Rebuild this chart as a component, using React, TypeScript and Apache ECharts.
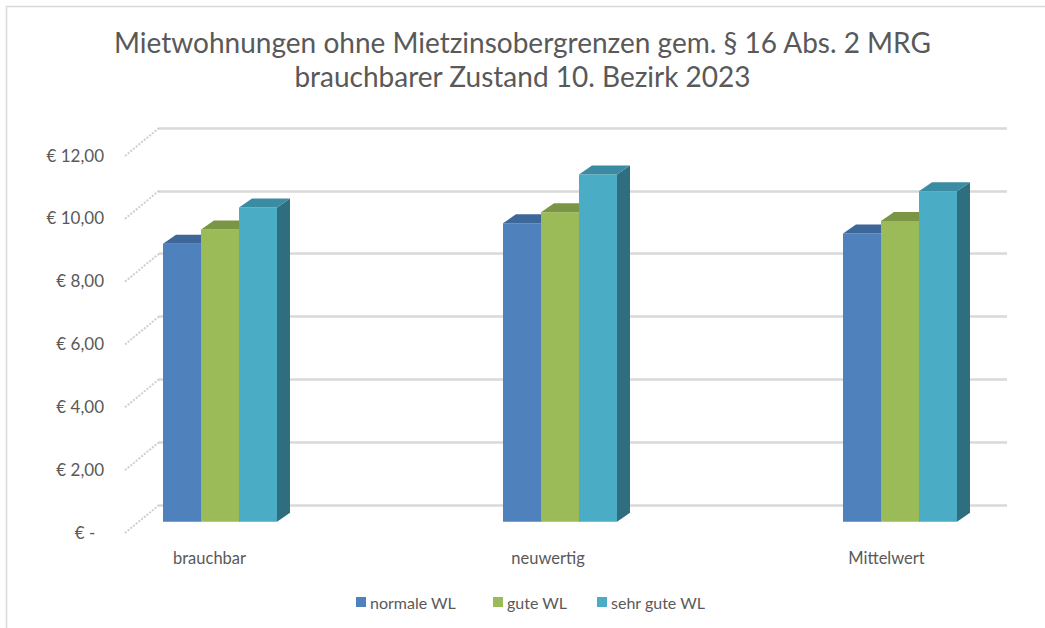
import React, { useEffect, useRef } from "react";
import * as echarts from "echarts";

const categories = ["brauchbar", "neuwertig", "Mittelwert"];
const seriesNames = ["normale WL", "gute WL", "sehr gute WL"];
const normaleWL = [8.85, 9.5, 9.17];
const guteWL = [9.3, 9.85, 9.57];
const sehrGuteWL = [10.0, 11.05, 10.52];
const seriesValues = [normaleWL, guteWL, sehrGuteWL];
const yTicks = [0, 2, 4, 6, 8, 10, 12];
const titleLines = [
  "Mietwohnungen ohne Mietzinsobergrenzen gem. § 16 Abs. 2 MRG",
  "brauchbarer Zustand 10. Bezirk 2023",
];

const FONT = "Lato";
const TEXT = "#595959";
const FRONT = ["#4F81BD", "#9BBB59", "#4BACC6"];
const TOP = ["#3D6699", "#7A9645", "#3A8CA3"];
const SIDE = ["#335A88", "#6A843B", "#2E6E7F"];

function formatEuro(v: number) {
  if (v === 0) return "€ -\u00A0\u00A0";
  return "€ " + v.toFixed(2).replace(".", ",");
}

export default function App() {
  const ref = useRef<HTMLDivElement>(null);
  useEffect(() => {
    document.body.style.margin = "0";
    const chart = echarts.init(ref.current!, null, { renderer: "svg" });
    const DX = 13;
    const DY = 9;
    const barSeries = seriesValues.map((vals, s) => ({
      type: "custom",
      name: seriesNames[s],
      xAxisIndex: 2,
      yAxisIndex: 2,
      itemStyle: { color: FRONT[s] },
      z: 5 + s,
      clip: false,
      data: vals.map((v, i) => [i, v]),
      renderItem: (params: any, api: any) => {
        const cat = api.value(0);
        const v = api.value(1);
        const base = api.coord([cat, 0]);
        const top = api.coord([cat, v]);
        const bw = 38;
        const cx = base[0] + 10.5 + cat * 1.5;
        const x0 = cx - 1.5 * bw + s * bw;
        const x1 = x0 + bw;
        const yT = top[1];
        const yB = base[1];
        return {
          type: "group",
          children: [
            {
              type: "polygon",
              shape: { points: [[x1, yT], [x1 + DX, yT - DY], [x1 + DX, yB - DY], [x1, yB]] },
              style: { fill: SIDE[s] },
            },
            {
              type: "rect",
              shape: { x: x0, y: yT, width: bw, height: yB - yT },
              style: { fill: FRONT[s] },
            },
            {
              type: "polygon",
              shape: { points: [[x0, yT], [x0 + DX, yT - DY], [x1 + DX, yT - DY], [x1, yT]] },
              style: { fill: TOP[s] },
            },
          ],
        };
      },
    }));

    const option: any = {
      animation: false,
      backgroundColor: "#FFFFFF",
      title: {
        text: titleLines.join("\n"),
        left: "center",
        top: 25,
        padding: [0, 0, 0, 16],
        textStyle: {
          fontFamily: FONT,
          fontSize: 28,
          fontWeight: "normal",
          color: TEXT,
          lineHeight: 34,
        },
      },
      legend: seriesNames.map((n, i) => ({
        data: [n],
        left: [356, 493, 597][i],
        top: 594,
        padding: 0,
        icon: "rect",
        itemWidth: 10,
        itemHeight: 10,
        itemGap: 4,
        textStyle: { fontFamily: FONT, fontSize: 16, color: TEXT, padding: [0, 0, 0, -1] },
      })),
      grid: [
        { left: 159, top: 128, width: 848, height: 377 },
        { left: 125, top: 155, width: 848, height: 377 },
        { left: 209.5, top: 144.7, width: 677, height: 377 },
      ],
      xAxis: [
        { type: "value", gridIndex: 0, min: 0, max: 1, show: false },
        { type: "value", gridIndex: 1, min: 0, max: 1, show: false },
        {
          type: "category",
          gridIndex: 2,
          data: categories,
          boundaryGap: false,
          axisLine: { show: false },
          axisTick: { show: false },
          axisLabel: { margin: 28, fontFamily: FONT, fontSize: 16.5, color: TEXT },
        },
      ],
      yAxis: [
        {
          type: "value",
          gridIndex: 0,
          min: 0,
          max: 12,
          interval: 2,
          axisLabel: { show: false },
          axisLine: { show: false },
          axisTick: { show: false },
          splitLine: { show: true, lineStyle: { color: "#D9D9D9", width: 2.5 } },
        },
        {
          type: "value",
          gridIndex: 1,
          min: 0,
          max: 12,
          interval: 2,
          axisLine: { show: false },
          axisTick: { show: false },
          splitLine: { show: false },
          axisLabel: {
            margin: 21,
            fontFamily: FONT,
            fontSize: 17,
            color: TEXT,
            formatter: (v: number) => formatEuro(v),
          },
        },
        {
          type: "value",
          gridIndex: 2,
          min: 0,
          max: 12,
          interval: 2,
          show: false,
        },
      ],
      graphic: [
        {
          type: "rect",
          shape: { x: 6.5, y: 6.5, width: 1200, height: 800 },
          style: { fill: "none", stroke: "#D9D9D9", lineWidth: 1.5 },
          silent: true,
          z: -1,
        },
      ],
      series: [
        {
          type: "custom",
          name: "sidewall",
          xAxisIndex: 0,
          yAxisIndex: 0,
          silent: true,
          z: 1,
          data: yTicks.map((t) => [0, t]),
          renderItem: (params: any, api: any) => {
            const p = api.coord([0, api.value(1)]);
            return {
              type: "line",
              shape: { x1: p[0], y1: p[1], x2: p[0] - 34, y2: p[1] + 28 },
              style: { stroke: "#CFCFCF", lineWidth: 2, lineDash: [2, 1.5] },
            };
          },
        },
        ...barSeries,
      ],
    };
    chart.setOption(option);
    return () => chart.dispose();
  }, []);
  return (
    <div
      ref={ref}
      style={{ position: "absolute", left: 0, top: 0, width: 1045, height: 628 }}
    />
  );
}
